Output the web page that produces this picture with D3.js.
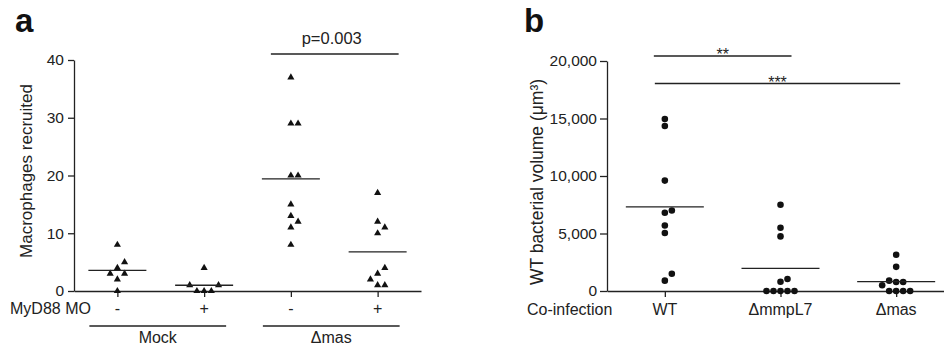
<!DOCTYPE html>
<html>
<head>
<meta charset="utf-8">
<script src="https://cdn.jsdelivr.net/npm/d3@7"></script>
<style>
  body { margin: 0; background: #fff; }
  svg { display: block; font-family: "Liberation Sans", Arial, sans-serif; }
  .axis path, .axis line { stroke: #222; stroke-width: 1.3px; }
  .axis text { font-size: 15.5px; fill: #222; }
</style>
</head>
<body>
<div id="chart"></div>
<script>
// Panel a: macrophages recruited
const groupsA = ["Mock-", "Mock+", "Δmas-", "Δmas+"];
const myd88Labels = ["-", "+", "-", "+"];
const infectionA = ["Mock", "Δmas"];
const mockMinus = [8, 5, 4, 3, 3, 2, 0];
const mockPlus = [4, 1, 1, 0, 0, 0];
const masMinus = [37, 29, 29, 20, 20, 15, 13, 12, 11, 8];
const masPlus = [17, 12, 11, 10, 4, 3, 2, 1, 1];
const ticksA = [0, 10, 20, 30, 40];

// Panel b: WT bacterial volume
const groupsB = ["WT", "ΔmmpL7", "Δmas"];
const wtVol = [14950, 14350, 9600, 7000, 6800, 5700, 5050, 1500, 900];
const mmpL7Vol = [7500, 5500, 4750, 1050, 800, 0, 0, 0, 0, 0];
const masVol = [3150, 2100, 900, 780, 780, 500, 0, 0, 0, 0];
const ticksB = [0, 5000, 10000, 15000, 20000];

const svg = d3.select("#chart").append("svg")
    .attr("width", 944)
    .attr("height", 350);

// simple beeswarm: place points low to high, nearest free column to the centre
function dodge(values, yScale, step, minDist) {
    const sorted = values.slice().sort((a, b) => a - b);
    const placed = [];
    const order = [0, 1, -1, 2, -2, 3, -3];
    sorted.forEach(v => {
        const py = yScale(v);
        for (const k of order) {
            const px = k * step;
            const hit = placed.some(p => Math.hypot(p.dx - px, p.py - py) < minDist);
            if (!hit) { placed.push({ value: v, dx: px, py: py }); break; }
        }
    });
    return placed;
}

function scatterPanel(g, groups, series, x, y, symbol, symSize, step, minDist, halfMean) {
    series.forEach((vals, i) => {
        const cx = x(groups[i]);
        const pts = dodge(vals, y, step, minDist);
        g.selectAll(null)
            .data(pts)
            .enter().append("path")
            .attr("d", d3.symbol().type(symbol).size(symSize))
            .attr("transform", d => `translate(${cx + d.dx},${y(d.value)})`)
            .attr("fill", "#111");
        const m = d3.mean(vals);
        g.append("line")
            .attr("x1", cx - halfMean).attr("x2", cx + halfMean)
            .attr("y1", y(m)).attr("y2", y(m))
            .attr("stroke", "#222").attr("stroke-width", 1.3);
    });
}

// ---------- panel a ----------
const gA = svg.append("g");
const xA = d3.scalePoint().domain(groupsA).range([74, 421]).padding(0.5);
const yA = d3.scaleLinear().domain([0, 40]).range([291, 60]);

gA.append("g").attr("class", "axis")
    .attr("transform", "translate(74,0)")
    .call(d3.axisLeft(yA).tickValues(ticksA).tickSize(6).tickPadding(4).tickSizeOuter(0));
gA.append("g").attr("class", "axis")
    .attr("transform", "translate(0,291)")
    .call(d3.axisBottom(xA).tickSize(6).tickSizeOuter(0).tickFormat(""));

scatterPanel(gA, groupsA, [mockMinus, mockPlus, masMinus, masPlus], xA, yA,
    d3.symbolTriangle, 22, 7.2, 7, 29);

gA.append("text")
    .attr("transform", "translate(32,171) rotate(-90)")
    .attr("text-anchor", "middle")
    .style("font-size", "17px").attr("fill", "#222")
    .text("Macrophages recruited");

gA.append("text")
    .attr("x", 15).attr("y", 32)
    .style("font-size", "33px").style("font-weight", "bold").attr("fill", "#111")
    .text("a");

gA.append("text")
    .attr("x", 10).attr("y", 314)
    .style("font-size", "16px").attr("fill", "#222")
    .text("MyD88 MO");

gA.selectAll(".mo")
    .data(groupsA)
    .enter().append("text")
    .attr("x", d => xA(d)).attr("y", 314)
    .attr("text-anchor", "middle")
    .style("font-size", "16px").attr("fill", "#222")
    .text((d, i) => myd88Labels[i]);

infectionA.forEach((name, j) => {
    const x1 = xA(groupsA[j * 2]) - 28;
    const x2 = xA(groupsA[j * 2 + 1]) + 22;
    gA.append("line")
        .attr("x1", x1).attr("x2", x2).attr("y1", 326).attr("y2", 326)
        .attr("stroke", "#222").attr("stroke-width", 1.3);
    gA.append("text")
        .attr("x", (x1 + x2) / 2).attr("y", 343)
        .attr("text-anchor", "middle")
        .style("font-size", "16px").attr("fill", "#222")
        .text(name);
});

// p value bracket
const pX1 = xA("Δmas-") - 20, pX2 = xA("Δmas+") + 21;
gA.append("line")
    .attr("x1", pX1).attr("x2", pX2).attr("y1", 54).attr("y2", 54)
    .attr("stroke", "#222").attr("stroke-width", 1.3);
gA.append("text")
    .attr("x", (pX1 + pX2) / 2 - 3).attr("y", 44)
    .attr("text-anchor", "middle")
    .style("font-size", "16.5px").attr("fill", "#222")
    .text("p=0.003");

// ---------- panel b ----------
const gB = svg.append("g");
const xB = d3.scalePoint().domain(groupsB).range([607, 954]).padding(0.5);
const yB = d3.scaleLinear().domain([0, 20000]).range([291, 61]);

gB.append("g").attr("class", "axis")
    .attr("transform", "translate(607,0)")
    .call(d3.axisLeft(yB).tickValues(ticksB).tickSize(7).tickPadding(3)
        .tickSizeOuter(0).tickFormat(d3.format(",")));
gB.append("g").attr("class", "axis")
    .attr("transform", "translate(0,291)")
    .call(d3.axisBottom(xB).tickSize(6).tickSizeOuter(0).tickFormat(""));

scatterPanel(gB, groupsB, [wtVol, mmpL7Vol, masVol], xB, yB,
    d3.symbolCircle, 34, 7, 6.9, 39);

gB.append("text")
    .attr("transform", "translate(543,182) rotate(-90)")
    .attr("text-anchor", "middle")
    .style("font-size", "17.5px").attr("fill", "#222")
    .text("WT bacterial volume (μm³)");

gB.append("text")
    .attr("x", 524).attr("y", 32)
    .style("font-size", "33px").style("font-weight", "bold").attr("fill", "#111")
    .text("b");

gB.append("text")
    .attr("x", 527).attr("y", 315)
    .style("font-size", "16px").attr("fill", "#222")
    .text("Co-infection");

gB.selectAll(".cat")
    .data(groupsB)
    .enter().append("text")
    .attr("x", d => xB(d)).attr("y", 315)
    .attr("text-anchor", "middle")
    .style("font-size", "16px").attr("fill", "#222")
    .text(d => d);

// significance bars
const sigBars = [
    { from: "WT", to: "ΔmmpL7", label: "**", y: 56, pad1: -11, pad2: 11 },
    { from: "WT", to: "Δmas", label: "***", y: 83.5, pad1: -10, pad2: 4 }
];
sigBars.forEach(s => {
    const x1 = xB(s.from) + s.pad1, x2 = xB(s.to) + s.pad2;
    gB.append("line")
        .attr("x1", x1).attr("x2", x2).attr("y1", s.y).attr("y2", s.y)
        .attr("stroke", "#222").attr("stroke-width", 1.3);
    gB.append("text")
        .attr("x", (x1 + x2) / 2).attr("y", s.y + 4)
        .attr("text-anchor", "middle")
        .style("font-size", "16px").attr("fill", "#222")
        .text(s.label);
});
</script>
</body>
</html>
